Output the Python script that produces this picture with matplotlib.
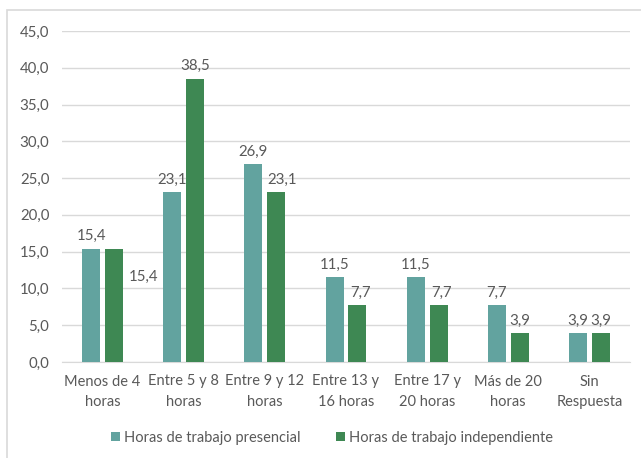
import matplotlib
matplotlib.use("Agg")
from matplotlib import pyplot as plt
from matplotlib.patches import Rectangle
import numpy as np

categorias = ["Menos de 4\nhoras", "Entre 5 y 8\nhoras", "Entre 9 y 12\nhoras",
              "Entre 13 y\n16 horas", "Entre 17 y\n20 horas", "Más de 20\nhoras",
              "Sin\nRespuesta"]
presencial = [15.4, 23.1, 26.9, 11.5, 11.5, 7.7, 3.9]
independiente = [15.4, 38.5, 23.1, 7.7, 7.7, 3.9, 3.9]
series_nombres = ["Horas de trabajo presencial", "Horas de trabajo independiente"]
y_ticks = [0, 5, 10, 15, 20, 25, 30, 35, 40, 45]

c_teal = "#62A39F"
c_green = "#3E8853"
c_text = "#595959"
c_grid = "#D9D9D9"
fs = 10.8

plt.rcParams['font.family'] = ['Lato', 'DejaVu Sans']

fig = plt.figure(figsize=(6.41, 4.58), dpi=100)
ax = fig.add_axes([62/641, 1 - 362/458, 568/641, 331/458])

# marco exterior del grafico
fig.patches.append(Rectangle((7/641, -0.05), 1.0, 1.05 - 10/458, transform=fig.transFigure,
                             fill=False, edgecolor=c_grid, linewidth=1.2))

x = np.arange(len(categorias))
off = 0.1415
w = 0.222
b1 = ax.bar(x - off, presencial, w, color=c_teal, label=series_nombres[0], zorder=3)
b2 = ax.bar(x + off, independiente, w, color=c_green, label=series_nombres[1], zorder=3)

def fmt(v):
    return f"{v:.1f}".replace(".", ",")

for rect, v in zip(b1, presencial):
    ax.annotate(fmt(v), (rect.get_x() + rect.get_width()/2, v), xytext=(0, 4),
                textcoords="offset points", ha="center", va="bottom",
                fontsize=fs, color=c_text)

# desplazamientos de etiquetas (Excel las mueve en algunos casos)
desp = [(21, -25), (0, 4), (4, 4), (2, 4), (2, 4), (0, 4), (0, 4)]
for rect, v, (dx, dy) in zip(b2, independiente, desp):
    ax.annotate(fmt(v), (rect.get_x() + rect.get_width()/2, v), xytext=(dx, dy),
                textcoords="offset points", ha="center", va="bottom",
                fontsize=fs, color=c_text)

ax.set_xlim(-0.5, len(categorias) - 0.5)
ax.set_ylim(0, 45)
ax.set_yticks(y_ticks)
ax.set_yticklabels([fmt(t) for t in y_ticks])
ax.set_xticks(x)
ax.set_xticklabels(categorias, linespacing=1.55, fontsize=10.5)
ax.tick_params(axis="both", length=0, colors=c_text)
ax.tick_params(axis="y", labelsize=fs, pad=9)
ax.tick_params(axis="x", pad=9)
ax.grid(axis="y", color=c_grid, linewidth=1, zorder=0)
for s in ["top", "right", "left"]:
    ax.spines[s].set_visible(False)
ax.spines["bottom"].set_color(c_grid)

fig.legend(loc="center", bbox_to_anchor=(332/641, 1 - 438/458), ncol=2, frameon=False,
           fontsize=10.5, labelcolor=c_text, handlelength=0.6, handleheight=0.6,
           handletextpad=0.3, columnspacing=2.4)

fig.savefig("out.png", dpi=100)
